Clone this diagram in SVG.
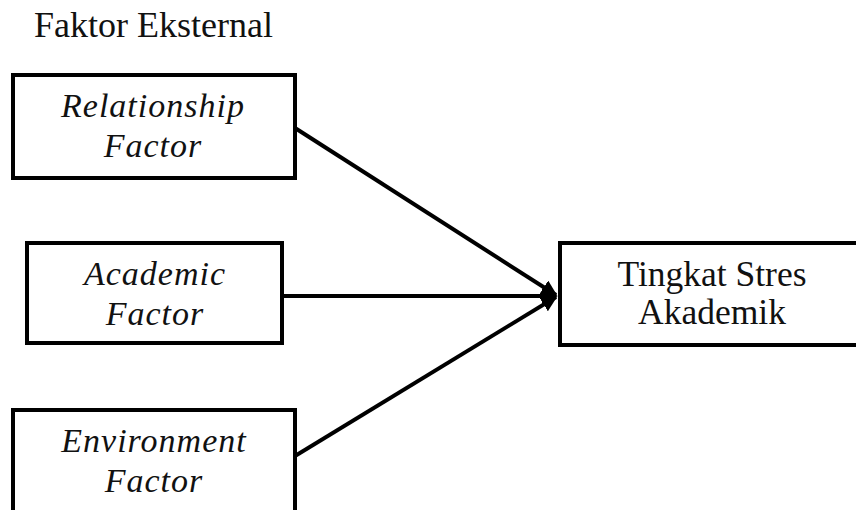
<svg xmlns="http://www.w3.org/2000/svg" width="856" height="510" viewBox="0 0 856 510">
  <defs>
    <style>
      .box { fill: #fff; stroke: #000; stroke-width: 4; }
      .t { font-family: "Liberation Serif", "Times New Roman", serif; font-size: 34px; fill: #111; text-anchor: middle; }
      .i { font-style: italic; letter-spacing: 1px; }
      .edge { stroke: #000; stroke-width: 4; fill: none; }
    </style>
    <marker id="arr" viewBox="0 0 10 10" refX="9" refY="5" markerWidth="4" markerHeight="4" orient="auto" markerUnits="strokeWidth">
      <path d="M0,0 L10,5 L0,10 Z" fill="#000"/>
    </marker>
  </defs>
  <rect width="856" height="510" fill="#fff"/>
  <text x="34" y="37" class="t" style="text-anchor:start;font-size:36px">Faktor Eksternal</text>

  <g id="edges">
    <line class="edge" x1="295" y1="128" x2="556" y2="295" marker-end="url(#arr)"/>
    <line class="edge" x1="282" y1="296" x2="556" y2="296" marker-end="url(#arr)"/>
    <line class="edge" x1="295" y1="456" x2="556" y2="297" marker-end="url(#arr)"/>
  </g>

  <g id="relationship">
    <rect class="box" x="13" y="75" width="282" height="103"/>
    <text class="t i" x="153" y="117">Relationship</text>
    <text class="t i" x="153" y="157">Factor</text>
  </g>
  <g id="academic">
    <rect class="box" x="27" y="243" width="255" height="100"/>
    <text class="t i" x="155" y="285">Academic</text>
    <text class="t i" x="155" y="325">Factor</text>
  </g>
  <g id="environment">
    <rect class="box" x="13" y="410" width="282" height="104"/>
    <text class="t i" x="154" y="452">Environment</text>
    <text class="t i" x="154" y="492">Factor</text>
  </g>
  <g id="tingkat">
    <rect class="box" x="560" y="243" width="310" height="102"/>
    <text class="t" x="712" y="286" style="font-size:35.5px">Tingkat Stres</text>
    <text class="t" x="712" y="324" style="font-size:35.5px">Akademik</text>
  </g>
</svg>
